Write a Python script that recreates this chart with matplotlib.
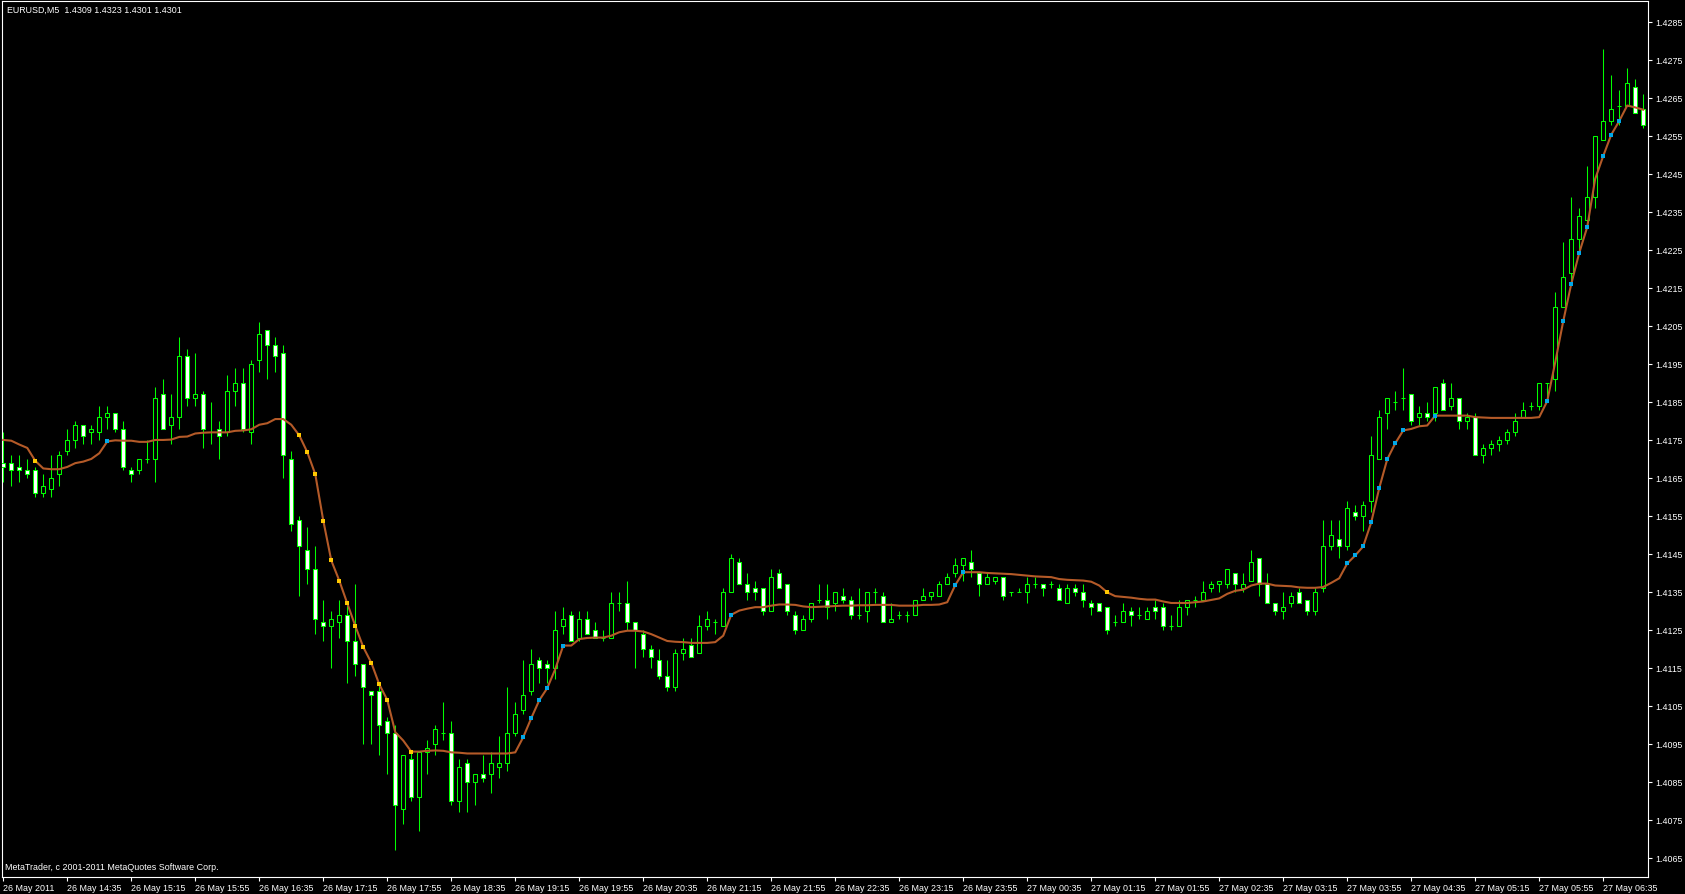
import numpy as np
import matplotlib
matplotlib.use('Agg')
import matplotlib.pyplot as plt

# EURUSD M5 bars (bar 0 = 26 May 13:55)
opens = [
    1.4169, 1.4169, 1.4168, 1.4167, 1.4167, 1.4161, 1.4162, 1.4166, 1.4172, 1.4175,
    1.4179, 1.4177, 1.4177, 1.4181, 1.4182, 1.4178, 1.4167, 1.4167, 1.4170, 1.4170,
    1.4187, 1.4179, 1.4181, 1.4197, 1.4186, 1.4187, 1.4177, 1.4178, 1.4177, 1.4188,
    1.4190, 1.4177, 1.4196, 1.4204, 1.4200, 1.4198, 1.4170, 1.4154, 1.4146, 1.4141,
    1.4127, 1.4126, 1.4127, 1.4129, 1.4122, 1.4116, 1.4109, 1.4109, 1.4101, 1.4098,
    1.4078, 1.4091, 1.4081, 1.4093, 1.4095, 1.4098, 1.4098, 1.4080, 1.4090, 1.4085,
    1.4087, 1.4087, 1.4089, 1.4090, 1.4098, 1.4104, 1.4109, 1.4117, 1.4116, 1.4115,
    1.4126, 1.4129, 1.4123, 1.4128, 1.4125, 1.4123, 1.4123, 1.4132, 1.4132, 1.4127,
    1.4124, 1.4120, 1.4117, 1.4113, 1.4110, 1.4119, 1.4121, 1.4119, 1.4126, 1.4127,
    1.4126, 1.4135, 1.4143, 1.4137, 1.4136, 1.4136, 1.4130, 1.4140, 1.4137, 1.4129,
    1.4125, 1.4128, 1.4133, 1.4133, 1.4132, 1.4134, 1.4133, 1.4129, 1.4130, 1.4135,
    1.4134, 1.4127, 1.4129, 1.4129, 1.4129, 1.4133, 1.4134, 1.4134, 1.4137, 1.4140,
    1.4142, 1.4143, 1.4140, 1.4137, 1.4138, 1.4139, 1.4135, 1.4135, 1.4135, 1.4137,
    1.4137, 1.4137, 1.4136, 1.4132, 1.4136, 1.4135, 1.4132, 1.4132, 1.4131, 1.4127,
    1.4127, 1.4130, 1.4129, 1.4128, 1.4131, 1.4131, 1.4126, 1.4126, 1.4131, 1.4133,
    1.4133, 1.4136, 1.4137, 1.4137, 1.4140, 1.4136, 1.4138, 1.4144, 1.4137, 1.4132,
    1.4130, 1.4132, 1.4135, 1.4133, 1.4130, 1.4136, 1.4147, 1.4149, 1.4147, 1.4156,
    1.4155, 1.4159, 1.4170, 1.4182, 1.4185, 1.4186, 1.4187, 1.4181, 1.4182, 1.4182,
    1.4190, 1.4184, 1.4186, 1.4180, 1.4181, 1.4171, 1.4173, 1.4174, 1.4175, 1.4177,
    1.4181, 1.4184, 1.4184, 1.4190, 1.4191, 1.4210, 1.4219, 1.4228, 1.4233, 1.4239,
    1.4254, 1.4259, 1.4263, 1.4263, 1.4268, 1.4262,
]
highs = [
    1.4177, 1.4171, 1.4171, 1.4170, 1.4168, 1.4166, 1.4171, 1.4172, 1.4178, 1.4180,
    1.4179, 1.4179, 1.4184, 1.4184, 1.4182, 1.4180, 1.4168, 1.4170, 1.4175, 1.4189,
    1.4191, 1.4187, 1.4202, 1.4199, 1.4198, 1.4188, 1.4185, 1.4180, 1.4192, 1.4194,
    1.4194, 1.4196, 1.4206, 1.4204, 1.4202, 1.4200, 1.4172, 1.4155, 1.4152, 1.4147,
    1.4133, 1.4130, 1.4133, 1.4132, 1.4137, 1.4116, 1.4109, 1.4111, 1.4102, 1.4100,
    1.4092, 1.4093, 1.4093, 1.4096, 1.4100, 1.4106, 1.4101, 1.4091, 1.4091, 1.4087,
    1.4092, 1.4093, 1.4097, 1.4110, 1.4106, 1.4117, 1.4120, 1.4118, 1.4117, 1.4130,
    1.4131, 1.4130, 1.4130, 1.4130, 1.4127, 1.4125, 1.4135, 1.4135, 1.4138, 1.4127,
    1.4125, 1.4121, 1.4120, 1.4117, 1.4120, 1.4123, 1.4123, 1.4129, 1.4130, 1.4128,
    1.4136, 1.4145, 1.4144, 1.4140, 1.4138, 1.4136, 1.4141, 1.4141, 1.4137, 1.4130,
    1.4129, 1.4132, 1.4137, 1.4137, 1.4135, 1.4136, 1.4134, 1.4136, 1.4135, 1.4136,
    1.4135, 1.4132, 1.4130, 1.4130, 1.4133, 1.4136, 1.4135, 1.4138, 1.4140, 1.4144,
    1.4144, 1.4146, 1.4140, 1.4140, 1.4139, 1.4139, 1.4135, 1.4136, 1.4139, 1.4139,
    1.4137, 1.4138, 1.4137, 1.4137, 1.4137, 1.4137, 1.4133, 1.4132, 1.4131, 1.4129,
    1.4132, 1.4131, 1.4131, 1.4131, 1.4133, 1.4132, 1.4129, 1.4133, 1.4133, 1.4134,
    1.4138, 1.4138, 1.4138, 1.4141, 1.4140, 1.4140, 1.4146, 1.4144, 1.4140, 1.4132,
    1.4135, 1.4135, 1.4136, 1.4133, 1.4136, 1.4154, 1.4154, 1.4154, 1.4159, 1.4158,
    1.4159, 1.4176, 1.4183, 1.4186, 1.4188, 1.4194, 1.4187, 1.4184, 1.4185, 1.4189,
    1.4191, 1.4190, 1.4186, 1.4182, 1.4182, 1.4174, 1.4175, 1.4176, 1.4178, 1.4182,
    1.4185, 1.4185, 1.4190, 1.4190, 1.4214, 1.4227, 1.4239, 1.4236, 1.4247, 1.4255,
    1.4278, 1.4271, 1.4267, 1.4273, 1.4270, 1.4266,
]
lows = [
    1.4164, 1.4163, 1.4164, 1.4165, 1.4160, 1.4160, 1.4160, 1.4163, 1.4171, 1.4173,
    1.4174, 1.4174, 1.4175, 1.4178, 1.4177, 1.4167, 1.4164, 1.4166, 1.4169, 1.4164,
    1.4178, 1.4174, 1.4178, 1.4184, 1.4184, 1.4173, 1.4174, 1.4170, 1.4176, 1.4184,
    1.4177, 1.4174, 1.4193, 1.4191, 1.4193, 1.4165, 1.4151, 1.4134, 1.4137, 1.4124,
    1.4122, 1.4115, 1.4123, 1.4111, 1.4113, 1.4095, 1.4095, 1.4092, 1.4087, 1.4067,
    1.4074, 1.4080, 1.4072, 1.4087, 1.4092, 1.4096, 1.4079, 1.4077, 1.4077, 1.4079,
    1.4085, 1.4082, 1.4086, 1.4088, 1.4097, 1.4103, 1.4108, 1.4111, 1.4111, 1.4112,
    1.4124, 1.4122, 1.4122, 1.4124, 1.4123, 1.4122, 1.4123, 1.4130, 1.4125, 1.4115,
    1.4118, 1.4115, 1.4112, 1.4109, 1.4109, 1.4117, 1.4118, 1.4119, 1.4125, 1.4124,
    1.4126, 1.4135, 1.4137, 1.4133, 1.4133, 1.4129, 1.4130, 1.4136, 1.4129, 1.4124,
    1.4125, 1.4127, 1.4132, 1.4128, 1.4130, 1.4132, 1.4128, 1.4128, 1.4127, 1.4132,
    1.4127, 1.4127, 1.4128, 1.4127, 1.4129, 1.4133, 1.4133, 1.4134, 1.4137, 1.4139,
    1.4138, 1.4139, 1.4134, 1.4137, 1.4137, 1.4133, 1.4134, 1.4135, 1.4132, 1.4136,
    1.4134, 1.4136, 1.4133, 1.4132, 1.4134, 1.4131, 1.4129, 1.4130, 1.4124, 1.4126,
    1.4127, 1.4126, 1.4128, 1.4128, 1.4128, 1.4125, 1.4125, 1.4126, 1.4129, 1.4131,
    1.4133, 1.4135, 1.4135, 1.4136, 1.4135, 1.4135, 1.4138, 1.4134, 1.4132, 1.4129,
    1.4128, 1.4131, 1.4132, 1.4129, 1.4129, 1.4135, 1.4146, 1.4144, 1.4146, 1.4154,
    1.4151, 1.4156, 1.4170, 1.4178, 1.4183, 1.4183, 1.4179, 1.4179, 1.4180, 1.4180,
    1.4183, 1.4183, 1.4178, 1.4178, 1.4171, 1.4169, 1.4171, 1.4172, 1.4174, 1.4176,
    1.4181, 1.4183, 1.4183, 1.4185, 1.4188, 1.4210, 1.4216, 1.4224, 1.4232, 1.4236,
    1.4254, 1.4258, 1.4258, 1.4263, 1.4261, 1.4257,
]
closes = [
    1.4168, 1.4167, 1.4167, 1.4166, 1.4161, 1.4163, 1.4165, 1.4171, 1.4175, 1.4179,
    1.4176, 1.4178, 1.4181, 1.4182, 1.4178, 1.4168, 1.4166, 1.4170, 1.4170, 1.4186,
    1.4178, 1.4181, 1.4197, 1.4186, 1.4187, 1.4178, 1.4177, 1.4176, 1.4188, 1.4190,
    1.4178, 1.4195, 1.4203, 1.4200, 1.4197, 1.4171, 1.4153, 1.4147, 1.4141, 1.4128,
    1.4126, 1.4128, 1.4129, 1.4122, 1.4116, 1.4110, 1.4108, 1.4100, 1.4098, 1.4079,
    1.4092, 1.4081, 1.4093, 1.4094, 1.4099, 1.4098, 1.4080, 1.4089, 1.4085, 1.4087,
    1.4086, 1.4090, 1.4090, 1.4098, 1.4103, 1.4108, 1.4116, 1.4115, 1.4115, 1.4125,
    1.4128, 1.4122, 1.4128, 1.4124, 1.4123, 1.4123, 1.4132, 1.4132, 1.4127, 1.4125,
    1.4120, 1.4118, 1.4113, 1.4110, 1.4119, 1.4120, 1.4118, 1.4126, 1.4128, 1.4127,
    1.4135, 1.4144, 1.4137, 1.4135, 1.4135, 1.4130, 1.4139, 1.4136, 1.4130, 1.4125,
    1.4128, 1.4132, 1.4133, 1.4131, 1.4135, 1.4133, 1.4129, 1.4129, 1.4135, 1.4135,
    1.4127, 1.4128, 1.4129, 1.4129, 1.4133, 1.4134, 1.4135, 1.4137, 1.4139, 1.4142,
    1.4144, 1.4141, 1.4137, 1.4139, 1.4139, 1.4134, 1.4135, 1.4135, 1.4137, 1.4137,
    1.4136, 1.4137, 1.4133, 1.4136, 1.4135, 1.4133, 1.4131, 1.4130, 1.4125, 1.4127,
    1.4130, 1.4129, 1.4129, 1.4130, 1.4130, 1.4126, 1.4126, 1.4131, 1.4133, 1.4133,
    1.4135, 1.4137, 1.4138, 1.4141, 1.4137, 1.4137, 1.4143, 1.4137, 1.4132, 1.4130,
    1.4131, 1.4134, 1.4132, 1.4130, 1.4135, 1.4147, 1.4150, 1.4147, 1.4157, 1.4155,
    1.4158, 1.4171, 1.4181, 1.4186, 1.4185, 1.4186, 1.4180, 1.4182, 1.4181, 1.4189,
    1.4183, 1.4186, 1.4180, 1.4181, 1.4171, 1.4173, 1.4174, 1.4175, 1.4177, 1.4180,
    1.4183, 1.4184, 1.4190, 1.4190, 1.4210, 1.4218, 1.4228, 1.4234, 1.4239, 1.4255,
    1.4259, 1.4262, 1.4263, 1.4269, 1.4261, 1.4258,
]
# moving average line drawn over the bars
ma = [
    1.41750, 1.41748, 1.41738, 1.41729, 1.41695, 1.41675, 1.41673, 1.41673, 1.41679, 1.41689,
    1.41693, 1.41700, 1.41715, 1.41746, 1.41749, 1.41748, 1.41748, 1.41745, 1.41745, 1.41750,
    1.41750, 1.41751, 1.41758, 1.41759, 1.41767, 1.41769, 1.41770, 1.41770, 1.41770, 1.41774,
    1.41775, 1.41778, 1.41790, 1.41794, 1.41805, 1.41805, 1.41790, 1.41762, 1.41718, 1.41660,
    1.41538, 1.41433, 1.41380, 1.41320, 1.41261, 1.41205, 1.41164, 1.41107, 1.41066, 1.40981,
    1.40959, 1.40930, 1.40930, 1.40932, 1.40933, 1.40932, 1.40928, 1.40927, 1.40925, 1.40925,
    1.40925, 1.40925, 1.40925, 1.40925, 1.40928, 1.40968, 1.41018, 1.41065, 1.41097, 1.41147,
    1.41209, 1.41209, 1.41226, 1.41229, 1.41230, 1.41230, 1.41235, 1.41244, 1.41248, 1.41248,
    1.41246, 1.41239, 1.41230, 1.41221, 1.41219, 1.41218, 1.41216, 1.41216, 1.41216, 1.41218,
    1.41235, 1.41290, 1.41301, 1.41306, 1.41310, 1.41310, 1.41314, 1.41317, 1.41317, 1.41316,
    1.41312, 1.41310, 1.41311, 1.41312, 1.41313, 1.41314, 1.41314, 1.41315, 1.41315, 1.41316,
    1.41316, 1.41316, 1.41314, 1.41314, 1.41314, 1.41316, 1.41316, 1.41317, 1.41323, 1.41368,
    1.41402, 1.41402, 1.41402, 1.41400, 1.41399, 1.41398, 1.41397, 1.41395, 1.41393, 1.41391,
    1.41390, 1.41389, 1.41384, 1.41382, 1.41381, 1.41380, 1.41377, 1.41367, 1.41349, 1.41339,
    1.41337, 1.41335, 1.41332, 1.41330, 1.41330, 1.41325, 1.41321, 1.41321, 1.41321, 1.41323,
    1.41325, 1.41329, 1.41333, 1.41345, 1.41353, 1.41356, 1.41367, 1.41372, 1.41372, 1.41367,
    1.41366, 1.41365, 1.41362, 1.41361, 1.41361, 1.41363, 1.41374, 1.41386, 1.41425, 1.41446,
    1.41470, 1.41533, 1.41623, 1.41699, 1.41741, 1.41775, 1.41779, 1.41786, 1.41788, 1.41814,
    1.41814, 1.41814, 1.41814, 1.41814, 1.41810, 1.41809, 1.41808, 1.41808, 1.41808, 1.41808,
    1.41808, 1.41808, 1.41810, 1.41852, 1.41954, 1.42062, 1.42160, 1.42242, 1.42310, 1.42437,
    1.42497, 1.42553, 1.42589, 1.42630, 1.42625, 1.42619,
]
# bars where the indicator puts a signal dot on the line
down_dots = [4, 37, 38, 39, 40, 41, 42, 43, 44, 45, 46, 47, 48, 51, 138]
up_dots = [13, 65, 66, 67, 68, 70, 91, 119, 120, 168, 169, 170, 171, 172, 173,
           174, 175, 179, 193, 195, 196, 197, 198, 200, 201, 202]

time_ticks = [0, 8, 16, 24, 32, 40, 48, 56, 64, 72, 80, 88, 96, 104, 112, 120,
              128, 136, 144, 152, 160, 168, 176, 184, 192, 200]
time_labels = ['26 May 2011', '26 May 14:35', '26 May 15:15', '26 May 15:55',
               '26 May 16:35', '26 May 17:15', '26 May 17:55', '26 May 18:35',
               '26 May 19:15', '26 May 19:55', '26 May 20:35', '26 May 21:15',
               '26 May 21:55', '26 May 22:35', '26 May 23:15', '26 May 23:55',
               '27 May 00:35', '27 May 01:15', '27 May 01:55', '27 May 02:35',
               '27 May 03:15', '27 May 03:55', '27 May 04:35', '27 May 05:15',
               '27 May 05:55', '27 May 06:35']
price_ticks = [1.4065 + 0.001 * i for i in range(23)]

plt.rcParams['font.family'] = ['Liberation Sans', 'DejaVu Sans']
W, H = 1685, 895
fig = plt.figure(figsize=(W / 100, H / 100), dpi=100, facecolor='black')
ax = fig.add_axes([2 / W, 17 / H, 1646 / W, 876 / H])
ax.set_facecolor('black')

o = np.array(opens)
h = np.array(highs)
l = np.array(lows)
c = np.array(closes)
x = np.arange(len(o))
bull = c > o

green = '#00ff00'
ax.vlines(x, l, h, color=green, lw=0.75, zorder=2)
ax.bar(x, np.abs(c - o), bottom=np.minimum(o, c), width=0.5,
       color=np.where(bull, 'black', 'white'), edgecolor=green,
       linewidth=0.75, zorder=3)

ma = np.array(ma)
ax.plot(x, ma, color='#b45a28', lw=1.5, zorder=4)
ax.plot(down_dots, ma[down_dots], 's', color='#ffc800', ms=2.3, mew=0, zorder=5)
ax.plot(up_dots, ma[up_dots], 's', color='#00a8e8', ms=2.3, mew=0, zorder=5)

ax.set_xlim(-0.16, 205.6)
ax.set_ylim(1.40600, 1.42905)

for s in ax.spines.values():
    s.set_color('white')
    s.set_linewidth(0.8)

ax.yaxis.tick_right()
ax.set_yticks(price_ticks)
ax.set_yticklabels(['%.4f' % p for p in price_ticks])
ax.set_xticks(time_ticks)
ax.set_xticklabels(time_labels, ha='left')
ax.tick_params(axis='both', colors='white', labelsize=6.4, length=3, width=0.8,
               direction='out')
ax.tick_params(axis='y', pad=2.5)
ax.tick_params(axis='x', pad=1.5)

fig.text(7 / W, 1 - 10 / H, 'EURUSD,M5  1.4309 1.4323 1.4301 1.4301',
         color='white', fontsize=6.4, va='center', ha='left')
fig.text(5 / W, 1 - 868 / H, 'MetaTrader, c 2001-2011 MetaQuotes Software Corp.',
         color='white', fontsize=6.4, va='center', ha='left')

fig.savefig('out.png', dpi=100, facecolor='black')
